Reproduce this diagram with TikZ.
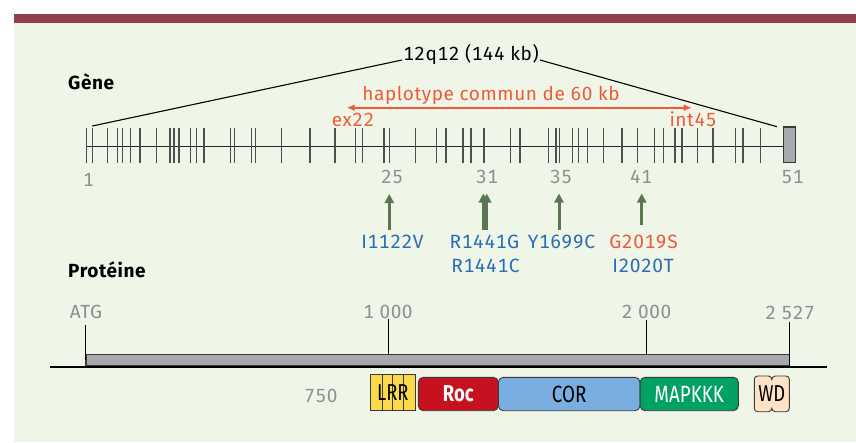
\documentclass[tikz,border=0pt]{standalone}
\usepackage{fontspec}
\setmainfont{Fira Sans}[Numbers=Monospaced, LetterSpace=3]
\newfontfamily\cond{Fira Sans}[FakeStretch=0.8, Numbers=Monospaced]
\usetikzlibrary{arrows.meta}
\definecolor{bgc}{HTML}{EFF5E7}
\definecolor{band}{HTML}{94404C}
\definecolor{orng}{HTML}{EE5A3A}
\definecolor{blu}{HTML}{2A6DB5}
\definecolor{grn}{HTML}{5A7752}
\definecolor{gry}{HTML}{8E8E8E}
\definecolor{dk}{HTML}{3A3A3A}
\definecolor{bargray}{HTML}{A8A9AD}
\definecolor{rocred}{HTML}{C8111E}
\definecolor{corblue}{HTML}{7AAEE0}
\definecolor{mapgreen}{HTML}{00A163}
\definecolor{lrryel}{HTML}{FCD94B}
\definecolor{wdpeach}{HTML}{FDE2C6}
\tikzset{
  txt/.style={inner sep=1pt, font=\fontsize{19}{22}\selectfont},
  ttl/.style={inner sep=1pt, font=\fontsize{19}{22}\selectfont\bfseries},
  num/.style={txt, text=gry},
  mut/.style={inner sep=1pt, font=\fontsize{19.2}{23}\selectfont, text=blu},
  mutarrow/.style={grn, line width=3pt, -{Triangle[width=9pt,length=9pt]}},
  exontick/.style={draw=dk!90, line width=1.5pt},
  dom/.style={draw=dk, line width=0.9pt, rounded corners=5pt, inner sep=0pt, minimum height=33.4pt, font=\fontsize{23.5}{26}\selectfont\cond},
}
\begin{document}
\begin{tikzpicture}[x=1pt,y=-1pt]
\useasboundingbox (0,0) rectangle (856,442);
\fill[white] (0,0) rectangle (856,442);
\fill[bgc] (13.6,23) rectangle (856,442);
\fill[band] (13.6,13.6) rectangle (856,23);

% ---- Gene ----
\node[ttl, anchor=base west] (gene) at (67,89) {Gène};
\node[txt, anchor=base] (chrom) at (471,60) {12q12 (144 kb)};

\draw[line width=1.3pt, black!85] (86.7,146.7) -- (783.3,146.7);
\foreach \x in {86.7,92.3,107.7,117.7,122.7,130.7,140,156.7,170,174,179,190.7,196.7,204,230.7,234.3,251.7,255.3,281.7,310,335,355.7,362.7,384,389.3,415.7,436.7,446,463,471,484,510.7,520,548.3,556,559.3,572.7,578.3,587.7,603.3,622,637.3,654.3,663.3,675,682,697.7,713,735.7,743,760.3}
  \draw[exontick] (\x,128.3) -- (\x,162.7);
\draw[fill=bargray, draw=dk, line width=1.2pt] (783.3,127) rectangle (795.7,162.7);
\coordinate (ex1top) at (92.3,126);
\coordinate (ex51top) at (777,126.7);
\draw[line width=1.1pt] (ex1top) -- (chrom.base west);
\draw[line width=1.1pt] (chrom.base east) -- (ex51top);

\node[txt, text=orng, anchor=base] (hap) at (491,100) {haplotype commun de 60 kb};
\coordinate (hapL) at (346.7,107.7);
\coordinate (hapR) at (691.7,107.7);
\draw[orng, line width=2pt, {Latex[length=8pt,width=7pt]}-{Latex[length=8pt,width=7pt]}] (hapL) -- (hapR);
\node[txt, text=orng, anchor=base] (ex22) at (353,126) {ex22};
\node[txt, text=orng, anchor=base] (int45) at (693,126.5) {int45};

\node[num, anchor=base] (n1) at (88.5,186) {1};
\node[num, anchor=base] (n25) at (392,183.3) {25};
\node[num, anchor=base] (n31) at (487,183) {31};
\node[num, anchor=base] (n35) at (561,183) {35};
\node[num, anchor=base] (n41) at (641,183) {41};
\node[num, anchor=base] (n51) at (792.5,183.3) {51};

% mutations
\node[mut, anchor=base] (m1) at (392.5,248.3) {I1122V};
\node[mut, anchor=base] (m2) at (484.5,248.3) {R1441G};
\node[mut, anchor=base] (m3) at (485.5,272.7) {R1441C};
\node[mut, anchor=base] (m4) at (561.5,248.3) {Y1699C};
\node[mut, anchor=base, text=orng] (m5) at (643.5,248.3) {G2019S};
\node[mut, anchor=base] (m6) at (643,272.7) {I2020T};

\coordinate (a1t) at (389.3,194); \coordinate (a1b) at (389.3,230);
\coordinate (a2t) at (483.3,193.5); \coordinate (a2b) at (483.3,230);
\coordinate (a3t) at (486.7,193.5); \coordinate (a3b) at (486.7,230);
\coordinate (a4t) at (559,193.5); \coordinate (a4b) at (559,230);
\coordinate (a5t) at (641.7,193.5); \coordinate (a5b) at (641.7,225);
\draw[mutarrow] (a1b) -- (a1t);
\draw[mutarrow] (a2b) -- (a2t);
\draw[mutarrow] (a3b) -- (a3t);
\draw[mutarrow] (a4b) -- (a4t);
\draw[mutarrow] (a5b) -- (a5t);

% ---- Protein ----
\node[ttl, anchor=base west] (prot) at (67,277) {Protéine};

\draw[fill=bargray, draw=dk, line width=1.2pt] (86,354.3) rectangle (789.3,366);
\draw[line width=2.3pt] (50,366.7) -- (826.7,366.7);
\draw[line width=1.3pt] (85.3,325) -- (85.3,360);
\draw[line width=1.3pt] (388.3,319) -- (388.3,354.3);
\draw[line width=1.3pt] (646.3,320) -- (646.3,354.3);
\draw[line width=1.3pt] (789.3,321.7) -- (789.3,366);

\node[num, anchor=base] (atg) at (86,318.3) {ATG};
\node[num, anchor=base] (p1000) at (388,318.3) {1 000};
\node[num, anchor=base] (p2000) at (646.5,318.3) {2 000};
\node[num, anchor=base] (p2527) at (790,319) {2 527};
\node[num, anchor=base] (p750) at (321,402.7) {750};

% domains
\draw[fill=lrryel, draw=dk, line width=0.9pt] (370,374.3) rectangle (415.7,410);
\foreach \x in {382.3,392.3,403.3} \draw[dk, line width=0.8pt] (\x,374.3) -- (\x,410);
\node[inner sep=0pt, font=\fontsize{23}{25}\selectfont\cond] (lrr) at (392.9,392.5) {LRR};

\node[dom, fill=corblue, minimum width=141.7pt] (cor) at (569.2,394) {COR};
\node[dom, fill=rocred, minimum width=80pt, text=white, font=\fontsize{23}{25}\selectfont\cond\bfseries] (roc) at (458.3,394) {Roc};
\node[dom, fill=mapgreen, minimum width=98.3pt, text=white] (map) at (689.2,394) {MAPKKK};

\filldraw[fill=wdpeach, draw=dk, line width=0.9pt]
  (757.5,376) -- (768.5,376) .. controls (770.5,376) and (771.8,378) .. (771.8,379.5)
  .. controls (771.8,378) and (773,376) .. (775,376) -- (786,376)
  .. controls (788,376) and (789.3,377.5) .. (789.3,379.5) -- (789.3,408.2)
  .. controls (789.3,410.2) and (788,411.7) .. (786,411.7) -- (775,411.7)
  .. controls (773,411.7) and (771.8,409.7) .. (771.8,408.2)
  .. controls (771.8,409.7) and (770.5,411.7) .. (768.5,411.7) -- (757.5,411.7)
  .. controls (755.5,411.7) and (754.3,410.2) .. (754.3,408.2) -- (754.3,379.5)
  .. controls (754.3,377.5) and (755.5,376) .. (757.5,376) -- cycle;
\node[inner sep=0pt, font=\fontsize{23}{25}\selectfont\cond] (wd) at (771.8,394) {WD};
\end{tikzpicture}
\end{document}
